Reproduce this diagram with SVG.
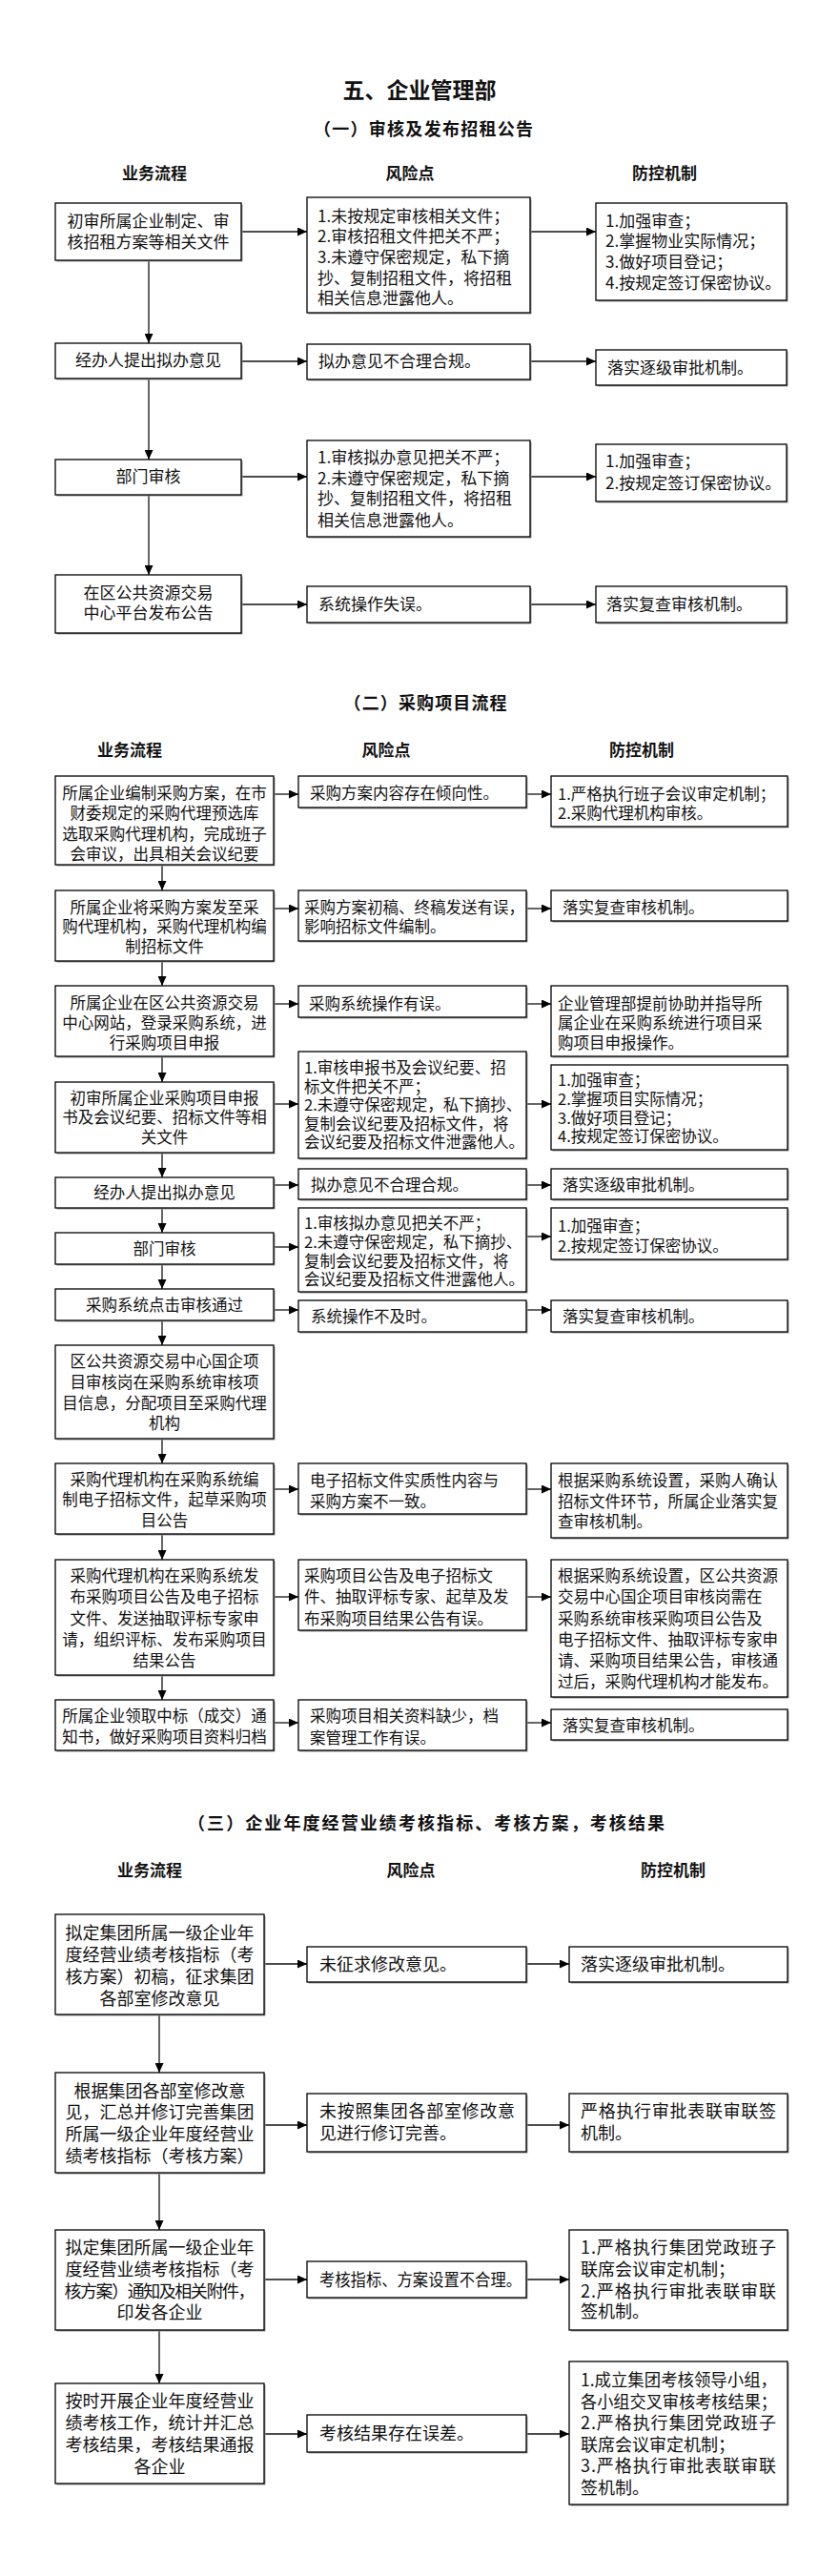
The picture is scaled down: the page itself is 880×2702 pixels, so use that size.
<svg xmlns="http://www.w3.org/2000/svg" width="880" height="2702" viewBox="0 0 880 2702">
<style>
text{font-family:"Noto Sans CJK SC","Noto Sans CJK JP",sans-serif;fill:#111}
.sh{fill:#9a9a9a}
.bx{fill:#fff;stroke:#000;stroke-width:1.3}
.c{text-anchor:middle}
.f1{font-size:17px}
.f2{font-size:16.5px}
.f3{font-size:18px}
.hd{font-size:17px;font-weight:bold;text-anchor:middle}
.st{font-size:18px;font-weight:bold;text-anchor:middle}
.tt{font-size:23px;font-weight:bold;text-anchor:middle}
.ln{stroke:#111;stroke-width:1.3;fill:none;marker-end:url(#ah)}
</style>
<defs>
<marker id="ah" markerWidth="10" markerHeight="9" refX="10" refY="4.5" orient="auto" markerUnits="userSpaceOnUse"><path d="M0,0 L10,4.5 L0,9 Z" fill="#000"/></marker>
</defs>
<rect width="880" height="2702" fill="#fff"/>

<g id="titles">
<text class="tt" x="440" y="103">五、企业管理部</text>
<text class="st" x="444" y="142" textLength="230" lengthAdjust="spacing">（一）审核及发布招租公告</text>
<text class="hd" x="162" y="188">业务流程</text>
<text class="hd" x="430" y="188">风险点</text>
<text class="hd" x="697" y="188">防控机制</text>
<text class="st" x="446" y="744" textLength="171" lengthAdjust="spacing">（二）采购项目流程</text>
<text class="hd" x="136" y="793">业务流程</text>
<text class="hd" x="405" y="793">风险点</text>
<text class="hd" x="673" y="793">防控机制</text>
<text class="st" x="447" y="1919" textLength="500" lengthAdjust="spacing">（三）企业年度经营业绩考核指标、考核方案，考核结果</text>
<text class="hd" x="157" y="1968">业务流程</text>
<text class="hd" x="431" y="1968">风险点</text>
<text class="hd" x="706" y="1968">防控机制</text>
</g>

<g id="connectors">
<!-- section 1 -->
<path class="ln" d="M253,243 H322"/><path class="ln" d="M556,243 H625"/>
<path class="ln" d="M253,379 H322"/><path class="ln" d="M556,379 H625"/>
<path class="ln" d="M253,500 H322"/><path class="ln" d="M556,500 H625"/>
<path class="ln" d="M253,634 H322"/><path class="ln" d="M556,634 H625"/>
<path class="ln" d="M156,273 V360"/><path class="ln" d="M156,397 V482"/><path class="ln" d="M156,519 V603"/>
<!-- section 2 -->
<path class="ln" d="M287,833 H313"/><path class="ln" d="M552,833 H578"/>
<path class="ln" d="M287,953 H313"/><path class="ln" d="M552,953 H578"/>
<path class="ln" d="M287,1053 H313"/><path class="ln" d="M552,1053 H578"/>
<path class="ln" d="M287,1158 H313"/><path class="ln" d="M552,1158 H578"/>
<path class="ln" d="M287,1243 H313"/><path class="ln" d="M552,1243 H578"/>
<path class="ln" d="M287,1308 H313"/><path class="ln" d="M552,1297 H578"/>
<path class="ln" d="M287,1374 H313"/><path class="ln" d="M552,1374 H578"/>
<path class="ln" d="M287,1562 H313"/><path class="ln" d="M552,1562 H578"/>
<path class="ln" d="M287,1675 H313"/><path class="ln" d="M552,1675 H578"/>
<path class="ln" d="M287,1807 H313"/><path class="ln" d="M552,1807 H578"/>
<path class="ln" d="M170,907 V934"/><path class="ln" d="M170,1008 V1034"/><path class="ln" d="M170,1108 V1135"/>
<path class="ln" d="M170,1209 V1235"/><path class="ln" d="M170,1267 V1293"/><path class="ln" d="M170,1326 V1352"/>
<path class="ln" d="M170,1385 V1411"/><path class="ln" d="M170,1509 V1535"/><path class="ln" d="M170,1609 V1636"/>
<path class="ln" d="M170,1757 V1783"/>
<!-- section 3 -->
<path class="ln" d="M277,2060 H322"/><path class="ln" d="M552,2060 H597"/>
<path class="ln" d="M277,2229 H322"/><path class="ln" d="M552,2229 H597"/>
<path class="ln" d="M277,2391 H322"/><path class="ln" d="M552,2391 H597"/>
<path class="ln" d="M277,2553 H322"/><path class="ln" d="M552,2553 H597"/>
<path class="ln" d="M167,2113 V2174"/><path class="ln" d="M167,2279 V2339"/><path class="ln" d="M167,2444 V2500"/>
</g>

<!-- ===== Section 1 ===== -->
<g id="s1p1"><rect class="sh" x="59.5" y="214.5" width="195" height="60"/><rect class="bx" x="58" y="213" width="195" height="60"/>
<text class="f1 c"><tspan x="155.5" y="238">初审所属企业制定、审</tspan><tspan x="155.5" y="260">核招租方案等相关文件</tspan></text></g>
<g id="s1r1"><rect class="sh" x="323.5" y="208.5" width="234" height="121"/><rect class="bx" x="322" y="207" width="234" height="121"/>
<text class="f1"><tspan x="333" y="233">1.未按规定审核相关文件；</tspan><tspan x="333" y="254">2.审核招租文件把关不严；</tspan><tspan x="333" y="276">3.未遵守保密规定，私下摘</tspan><tspan x="333" y="298">抄、复制招租文件，将招租</tspan><tspan x="333" y="319">相关信息泄露他人。</tspan></text></g>
<g id="s1c1"><rect class="sh" x="626.5" y="214.5" width="200" height="102"/><rect class="bx" x="625" y="213" width="200" height="102"/>
<text class="f1"><tspan x="635" y="238">1.加强审查；</tspan><tspan x="635" y="259">2.掌握物业实际情况；</tspan><tspan x="635" y="281">3.做好项目登记；</tspan><tspan x="635" y="303">4.按规定签订保密协议。</tspan></text></g>

<g id="s1p2"><rect class="sh" x="59.5" y="361.5" width="195" height="37"/><rect class="bx" x="58" y="360" width="195" height="37"/>
<text class="f1 c" x="155.5" y="384">经办人提出拟办意见</text></g>
<g id="s1r2"><rect class="sh" x="323.5" y="362.5" width="234" height="37"/><rect class="bx" x="322" y="361" width="234" height="37"/>
<text class="f1" x="334" y="385">拟办意见不合理合规。</text></g>
<g id="s1c2"><rect class="sh" x="626.5" y="368.5" width="200" height="37"/><rect class="bx" x="625" y="367" width="200" height="37"/>
<text class="f1" x="637" y="392">落实逐级审批机制。</text></g>

<g id="s1p3"><rect class="sh" x="59.5" y="483.5" width="195" height="37"/><rect class="bx" x="58" y="482" width="195" height="37"/>
<text class="f1 c" x="155.5" y="506">部门审核</text></g>
<g id="s1r3"><rect class="sh" x="323.5" y="463.5" width="234" height="101"/><rect class="bx" x="322" y="462" width="234" height="101"/>
<text class="f1"><tspan x="333" y="486">1.审核拟办意见把关不严；</tspan><tspan x="333" y="508">2.未遵守保密规定，私下摘</tspan><tspan x="333" y="529">抄、复制招租文件，将招租</tspan><tspan x="333" y="552">相关信息泄露他人。</tspan></text></g>
<g id="s1c3"><rect class="sh" x="626.5" y="467.5" width="200" height="60"/><rect class="bx" x="625" y="466" width="200" height="60"/>
<text class="f1"><tspan x="635" y="490">1.加强审查；</tspan><tspan x="635" y="513">2.按规定签订保密协议。</tspan></text></g>

<g id="s1p4"><rect class="sh" x="59.5" y="604.5" width="195" height="61"/><rect class="bx" x="58" y="603" width="195" height="61"/>
<text class="f1 c"><tspan x="155.5" y="628">在区公共资源交易</tspan><tspan x="155.5" y="649">中心平台发布公告</tspan></text></g>
<g id="s1r4"><rect class="sh" x="323.5" y="616.5" width="234" height="38"/><rect class="bx" x="322" y="615" width="234" height="38"/>
<text class="f1" x="334" y="640">系统操作失误。</text></g>
<g id="s1c4"><rect class="sh" x="626.5" y="616.5" width="200" height="38"/><rect class="bx" x="625" y="615" width="200" height="38"/>
<text class="f1" x="636" y="640">落实复查审核机制。</text></g>

<!-- ===== Section 2 ===== -->
<g id="s2p1"><rect class="sh" x="59.5" y="815.5" width="229" height="93"/><rect class="bx" x="58" y="814" width="229" height="93"/>
<text class="f2 c"><tspan x="172.5" y="838">所属企业编制采购方案，在市</tspan><tspan x="172.5" y="859">财委规定的采购代理预选库</tspan><tspan x="172.5" y="881">选取采购代理机构，完成班子</tspan><tspan x="172.5" y="902">会审议，出具相关会议纪要</tspan></text></g>
<g id="s2r1"><rect class="sh" x="314.5" y="815.5" width="239" height="33"/><rect class="bx" x="313" y="814" width="239" height="33"/>
<text class="f2" x="325" y="838">采购方案内容存在倾向性。</text></g>
<g id="s2c1"><rect class="sh" x="579.5" y="815.5" width="248" height="53"/><rect class="bx" x="578" y="814" width="248" height="53"/>
<text class="f2"><tspan x="585" y="839">1.严格执行班子会议审定机制；</tspan><tspan x="585" y="859">2.采购代理机构审核。</tspan></text></g>

<g id="s2p2"><rect class="sh" x="59.5" y="935.5" width="229" height="74"/><rect class="bx" x="58" y="934" width="229" height="74"/>
<text class="f2 c"><tspan x="172.5" y="958">所属企业将采购方案发至采</tspan><tspan x="172.5" y="978">购代理机构，采购代理机构编</tspan><tspan x="172.5" y="999">制招标文件</tspan></text></g>
<g id="s2r2"><rect class="sh" x="314.5" y="935.5" width="239" height="53"/><rect class="bx" x="313" y="934" width="239" height="53"/>
<text class="f2"><tspan x="319" y="958">采购方案初稿、终稿发送有误，</tspan><tspan x="319" y="978">影响招标文件编制。</tspan></text></g>
<g id="s2c2"><rect class="sh" x="579.5" y="935.5" width="248" height="32"/><rect class="bx" x="578" y="934" width="248" height="32"/>
<text class="f2" x="590" y="958">落实复查审核机制。</text></g>

<g id="s2p3"><rect class="sh" x="59.5" y="1035.5" width="229" height="74"/><rect class="bx" x="58" y="1034" width="229" height="74"/>
<text class="f2 c"><tspan x="172.5" y="1058">所属企业在区公共资源交易</tspan><tspan x="172.5" y="1079">中心网站，登录采购系统，进</tspan><tspan x="172.5" y="1100">行采购项目申报</tspan></text></g>
<g id="s2r3"><rect class="sh" x="314.5" y="1035.5" width="239" height="33"/><rect class="bx" x="313" y="1034" width="239" height="33"/>
<text class="f2" x="324" y="1059">采购系统操作有误。</text></g>
<g id="s2c3"><rect class="sh" x="579.5" y="1035.5" width="248" height="74"/><rect class="bx" x="578" y="1034" width="248" height="74"/>
<text class="f2"><tspan x="585" y="1059">企业管理部提前协助并指导所</tspan><tspan x="585" y="1079">属企业在采购系统进行项目采</tspan><tspan x="585" y="1100">购项目申报操作。</tspan></text></g>

<g id="s2p4"><rect class="sh" x="59.5" y="1136.5" width="229" height="74"/><rect class="bx" x="58" y="1135" width="229" height="74"/>
<text class="f2 c"><tspan x="172.5" y="1158">初审所属企业采购项目申报</tspan><tspan x="172.5" y="1178">书及会议纪要、招标文件等相</tspan><tspan x="172.5" y="1199">关文件</tspan></text></g>
<g id="s2r4"><rect class="sh" x="314.5" y="1104.5" width="239" height="112"/><rect class="bx" x="313" y="1103" width="239" height="112"/>
<text class="f2"><tspan x="319" y="1126">1.审核申报书及会议纪要、招</tspan><tspan x="319" y="1145.5">标文件把关不严；</tspan><tspan x="319" y="1165">2.未遵守保密规定，私下摘抄、</tspan><tspan x="319" y="1184.5">复制会议纪要及招标文件，将</tspan><tspan x="319" y="1204">会议纪要及招标文件泄露他人。</tspan></text></g>
<g id="s2c4"><rect class="sh" x="579.5" y="1118.5" width="248" height="89"/><rect class="bx" x="578" y="1117" width="248" height="89"/>
<text class="f2"><tspan x="585" y="1139">1.加强审查；</tspan><tspan x="585" y="1159">2.掌握项目实际情况；</tspan><tspan x="585" y="1179">3.做好项目登记；</tspan><tspan x="585" y="1198">4.按规定签订保密协议。</tspan></text></g>

<g id="s2p5"><rect class="sh" x="59.5" y="1236.5" width="229" height="32"/><rect class="bx" x="58" y="1235" width="229" height="32"/>
<text class="f2 c" x="172.5" y="1257">经办人提出拟办意见</text></g>
<g id="s2r5"><rect class="sh" x="314.5" y="1227.5" width="239" height="32"/><rect class="bx" x="313" y="1226" width="239" height="32"/>
<text class="f2" x="326" y="1249">拟办意见不合理合规。</text></g>
<g id="s2c5"><rect class="sh" x="579.5" y="1227.5" width="248" height="32"/><rect class="bx" x="578" y="1226" width="248" height="32"/>
<text class="f2" x="590" y="1249">落实逐级审批机制。</text></g>

<g id="s2p6"><rect class="sh" x="59.5" y="1294.5" width="229" height="33"/><rect class="bx" x="58" y="1293" width="229" height="33"/>
<text class="f2 c" x="172.5" y="1316">部门审核</text></g>
<g id="s2r6"><rect class="sh" x="314.5" y="1268.5" width="239" height="88"/><rect class="bx" x="313" y="1267" width="239" height="88"/>
<text class="f2"><tspan x="319" y="1289">1.审核拟办意见把关不严；</tspan><tspan x="319" y="1309">2.未遵守保密规定，私下摘抄、</tspan><tspan x="319" y="1329">复制会议纪要及招标文件，将</tspan><tspan x="319" y="1348">会议纪要及招标文件泄露他人。</tspan></text></g>
<g id="s2c6"><rect class="sh" x="579.5" y="1268.5" width="248" height="54"/><rect class="bx" x="578" y="1267" width="248" height="54"/>
<text class="f2"><tspan x="585" y="1292">1.加强审查；</tspan><tspan x="585" y="1313">2.按规定签订保密协议。</tspan></text></g>

<g id="s2p7"><rect class="sh" x="59.5" y="1353.5" width="229" height="33"/><rect class="bx" x="58" y="1352" width="229" height="33"/>
<text class="f2 c" x="172.5" y="1375">采购系统点击审核通过</text></g>
<g id="s2r7"><rect class="sh" x="314.5" y="1365.5" width="239" height="33"/><rect class="bx" x="313" y="1364" width="239" height="33"/>
<text class="f2" x="326" y="1387">系统操作不及时。</text></g>
<g id="s2c7"><rect class="sh" x="579.5" y="1365.5" width="248" height="33"/><rect class="bx" x="578" y="1364" width="248" height="33"/>
<text class="f2" x="590" y="1387">落实复查审核机制。</text></g>

<g id="s2p8"><rect class="sh" x="59.5" y="1412.5" width="229" height="98"/><rect class="bx" x="58" y="1411" width="229" height="98"/>
<text class="f2 c"><tspan x="172.5" y="1434">区公共资源交易中心国企项</tspan><tspan x="172.5" y="1456">目审核岗在采购系统审核项</tspan><tspan x="172.5" y="1478">目信息，分配项目至采购代理</tspan><tspan x="172.5" y="1499">机构</tspan></text></g>

<g id="s2p9"><rect class="sh" x="59.5" y="1536.5" width="229" height="74"/><rect class="bx" x="58" y="1535" width="229" height="74"/>
<text class="f2 c"><tspan x="172.5" y="1558">采购代理机构在采购系统编</tspan><tspan x="172.5" y="1579">制电子招标文件，起草采购项</tspan><tspan x="172.5" y="1601">目公告</tspan></text></g>
<g id="s2r9"><rect class="sh" x="314.5" y="1536.5" width="239" height="53"/><rect class="bx" x="313" y="1535" width="239" height="53"/>
<text class="f2"><tspan x="325" y="1559">电子招标文件实质性内容与</tspan><tspan x="325" y="1581">采购方案不一致。</tspan></text></g>
<g id="s2c9"><rect class="sh" x="579.5" y="1536.5" width="248" height="78"/><rect class="bx" x="578" y="1535" width="248" height="78"/>
<text class="f2"><tspan x="585" y="1559">根据采购系统设置，采购人确认</tspan><tspan x="585" y="1581">招标文件环节，所属企业落实复</tspan><tspan x="585" y="1602">查审核机制。</tspan></text></g>

<g id="s2p10"><rect class="sh" x="59.5" y="1637.5" width="229" height="121"/><rect class="bx" x="58" y="1636" width="229" height="121"/>
<text class="f2 c"><tspan x="172.5" y="1659">采购代理机构在采购系统发</tspan><tspan x="172.5" y="1681">布采购项目公告及电子招标</tspan><tspan x="172.5" y="1704">文件、发送抽取评标专家申</tspan><tspan x="172.5" y="1726">请，组织评标、发布采购项目</tspan><tspan x="172.5" y="1748">结果公告</tspan></text></g>
<g id="s2r10"><rect class="sh" x="314.5" y="1637.5" width="239" height="74"/><rect class="bx" x="313" y="1636" width="239" height="74"/>
<text class="f2"><tspan x="319" y="1659">采购项目公告及电子招标文</tspan><tspan x="319" y="1681">件、抽取评标专家、起草及发</tspan><tspan x="319" y="1704">布采购项目结果公告有误。</tspan></text></g>
<g id="s2c10"><rect class="sh" x="579.5" y="1637.5" width="248" height="144"/><rect class="bx" x="578" y="1636" width="248" height="144"/>
<text class="f2"><tspan x="585" y="1659">根据采购系统设置，区公共资源</tspan><tspan x="585" y="1681">交易中心国企项目审核岗需在</tspan><tspan x="585" y="1704">采购系统审核采购项目公告及</tspan><tspan x="585" y="1726">电子招标文件、抽取评标专家申</tspan><tspan x="585" y="1748">请、采购项目结果公告，审核通</tspan><tspan x="585" y="1770">过后，采购代理机构才能发布。</tspan></text></g>

<g id="s2p11"><rect class="sh" x="59.5" y="1784.5" width="229" height="53"/><rect class="bx" x="58" y="1783" width="229" height="53"/>
<text class="f2 c"><tspan x="172.5" y="1806">所属企业领取中标（成交）通</tspan><tspan x="172.5" y="1828">知书，做好采购项目资料归档</tspan></text></g>
<g id="s2r11"><rect class="sh" x="314.5" y="1784.5" width="239" height="53"/><rect class="bx" x="313" y="1783" width="239" height="53"/>
<text class="f2"><tspan x="325" y="1806">采购项目相关资料缺少，档</tspan><tspan x="325" y="1829">案管理工作有误。</tspan></text></g>
<g id="s2c11"><rect class="sh" x="579.5" y="1794.5" width="248" height="32"/><rect class="bx" x="578" y="1793" width="248" height="32"/>
<text class="f2" x="590" y="1816">落实复查审核机制。</text></g>

<!-- ===== Section 3 ===== -->
<g id="s3p1"><rect class="sh" x="59.5" y="2009.5" width="219" height="105"/><rect class="bx" x="58" y="2008" width="219" height="105"/>
<text class="f3 c"><tspan x="167.5" y="2034">拟定集团所属一级企业年</tspan><tspan x="167.5" y="2057">度经营业绩考核指标（考</tspan><tspan x="167.5" y="2080">核方案）初稿，征求集团</tspan><tspan x="167.5" y="2103">各部室修改意见</tspan></text></g>
<g id="s3r1"><rect class="sh" x="323.5" y="2043.5" width="230" height="37"/><rect class="bx" x="322" y="2042" width="230" height="37"/>
<text class="f3" x="335" y="2067">未征求修改意见。</text></g>
<g id="s3c1"><rect class="sh" x="598.5" y="2043.5" width="229" height="37"/><rect class="bx" x="597" y="2042" width="229" height="37"/>
<text class="f3" x="609" y="2067">落实逐级审批机制。</text></g>

<g id="s3p2"><rect class="sh" x="59.5" y="2175.5" width="219" height="105"/><rect class="bx" x="58" y="2174" width="219" height="105"/>
<text class="f3 c"><tspan x="167.5" y="2200">根据集团各部室修改意</tspan><tspan x="167.5" y="2222">见，汇总并修订完善集团</tspan><tspan x="167.5" y="2245">所属一级企业年度经营业</tspan><tspan x="167.5" y="2268">绩考核指标（考核方案）</tspan></text></g>
<g id="s3r2"><rect class="sh" x="323.5" y="2197.5" width="230" height="61"/><rect class="bx" x="322" y="2196" width="230" height="61"/>
<text class="f3"><tspan x="335" y="2221" textLength="205" lengthAdjust="spacing">未按照集团各部室修改意</tspan><tspan x="335" y="2244">见进行修订完善。</tspan></text></g>
<g id="s3c2"><rect class="sh" x="598.5" y="2197.5" width="229" height="61"/><rect class="bx" x="597" y="2196" width="229" height="61"/>
<text class="f3"><tspan x="609" y="2221" textLength="205" lengthAdjust="spacing">严格执行审批表联审联签</tspan><tspan x="609" y="2244">机制。</tspan></text></g>

<g id="s3p3"><rect class="sh" x="59.5" y="2340.5" width="219" height="105"/><rect class="bx" x="58" y="2339" width="219" height="105"/>
<text class="f3 c"><tspan x="167.5" y="2364">拟定集团所属一级企业年</tspan><tspan x="167.5" y="2387">度经营业绩考核指标（考</tspan><tspan x="167.5" y="2410" textLength="200" lengthAdjust="spacing">核方案）通知及相关附件，</tspan><tspan x="167.5" y="2432">印发各企业</tspan></text></g>
<g id="s3r3"><rect class="sh" x="323.5" y="2373.5" width="230" height="38"/><rect class="bx" x="322" y="2372" width="230" height="38"/>
<text class="f3" x="335" y="2398" textLength="212" lengthAdjust="spacingAndGlyphs">考核指标、方案设置不合理。</text></g>
<g id="s3c3"><rect class="sh" x="598.5" y="2340.5" width="229" height="105"/><rect class="bx" x="597" y="2339" width="229" height="105"/>
<text class="f3"><tspan x="609" y="2364" textLength="205" lengthAdjust="spacing">1.严格执行集团党政班子</tspan><tspan x="609" y="2387">联席会议审定机制；</tspan><tspan x="609" y="2410" textLength="205" lengthAdjust="spacing">2.严格执行审批表联审联</tspan><tspan x="609" y="2431">签机制。</tspan></text></g>

<g id="s3p4"><rect class="sh" x="59.5" y="2501.5" width="219" height="105"/><rect class="bx" x="58" y="2500" width="219" height="105"/>
<text class="f3 c"><tspan x="167.5" y="2525">按时开展企业年度经营业</tspan><tspan x="167.5" y="2548">绩考核工作，统计并汇总</tspan><tspan x="167.5" y="2571">考核结果，考核结果通报</tspan><tspan x="167.5" y="2594">各企业</tspan></text></g>
<g id="s3r4"><rect class="sh" x="323.5" y="2534.5" width="230" height="39"/><rect class="bx" x="322" y="2533" width="230" height="39"/>
<text class="f3" x="335" y="2559">考核结果存在误差。</text></g>
<g id="s3c4"><rect class="sh" x="598.5" y="2478.5" width="229" height="150"/><rect class="bx" x="597" y="2477" width="229" height="150"/>
<text class="f3"><tspan x="609" y="2503" textLength="206" lengthAdjust="spacingAndGlyphs">1.成立集团考核领导小组，</tspan><tspan x="609" y="2526" textLength="206" lengthAdjust="spacingAndGlyphs">各小组交叉审核考核结果；</tspan><tspan x="609" y="2548" textLength="205" lengthAdjust="spacing">2.严格执行集团党政班子</tspan><tspan x="609" y="2571">联席会议审定机制；</tspan><tspan x="609" y="2593" textLength="205" lengthAdjust="spacing">3.严格执行审批表联审联</tspan><tspan x="609" y="2616">签机制。</tspan></text></g>
</svg>
